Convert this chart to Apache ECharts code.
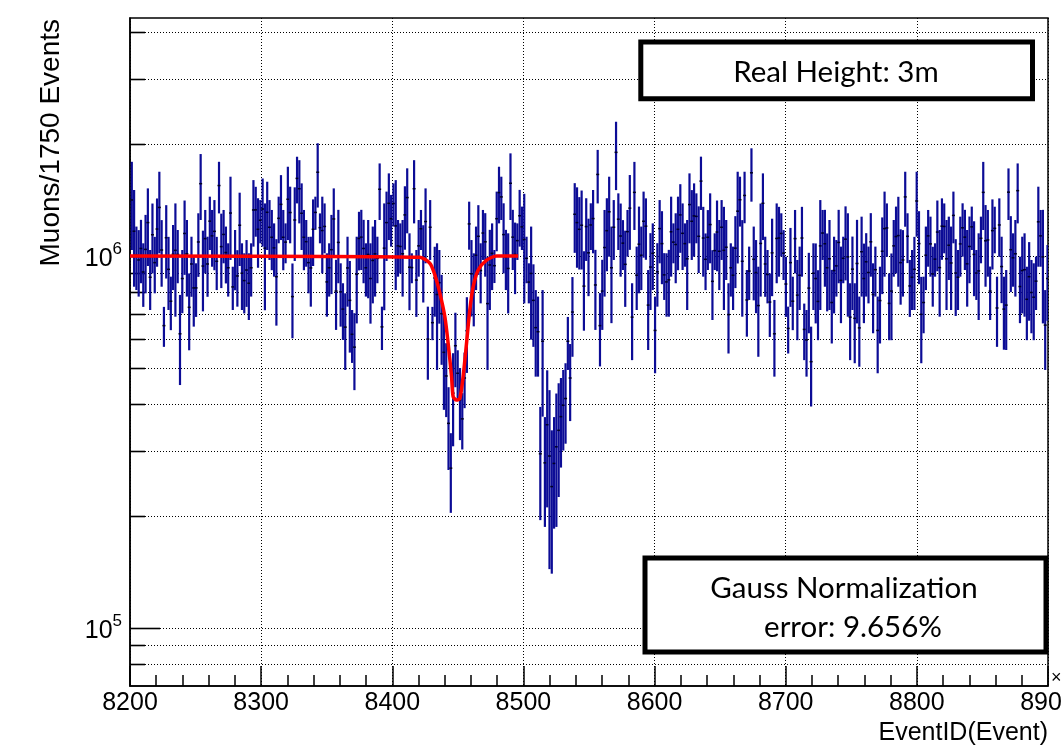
<!DOCTYPE html>
<html>
<head>
<meta charset="utf-8">
<script src="https://cdn.jsdelivr.net/npm/echarts@6/dist/echarts.min.js"></script>
<style>
  html, body { margin: 0; padding: 0; background: #ffffff; }
  #chart { width: 1061px; height: 747px; }
</style>
</head>
<body>
<div id="chart"></div>
<script>
// Histogram binning along EventID (x10^3): 1750 events per bin
const binStart = 8200.5;
const binWidth = 1.75;

// Muon counts per bin, in thousands
const counts = [
  1415,1166,1005,976,1048,906,1042,1230,
  877,1141,960,1182,1351,1038,650,1120,
  921,756,1011,1036,1010,618,870,1150,
  1014,728,952,821,821,1091,1565,940,
  1114,952,1241,1133,1165,968,1547,1060,
  1143,1022,930,1305,826,992,884,1210,
  899,859,917,845,930,1330,1331,1180,
  1248,1338,1050,1311,1195,1123,1052,880,
  1263,1377,1123,1090,1421,1309,778,1250,
  1617,1517,1303,1123,1093,960,929,1180,
  1310,1680,1192,1171,1201,852,930,1040,
  1258,805,1088,801,720,644,929,760,
  616,569,893,1115,1124,1048,930,1010,
  870,973,1014,986,1512,645,1050,1230,
  1386,1260,1384,1205,1065,1061,1014,1290,
  1436,933,931,1517,862,1065,1184,980,
  1238,598,1195,662,873,788,848,700,
  551,476,355,269,428,574,484,410,
  365,470,630,1220,896,832,1005,1130,
  914,1153,1092,745,946,1017,942,1260,
  1481,1442,1142,993,926,1569,1124,1010,
  1100,1283,1198,1108,986,851,898,760,
  642,626,294,590,278,352,290,240,
  277,307,340,370,397,414,590,470,
  707,1295,1230,1180,1210,830,1200,1020,
  1212,1261,836,1657,650,805,1054,1170,
  1315,930,1195,1900,1256,1132,1083,950,
  1163,1345,685,1483,888,1076,1005,1240,
  1203,738,934,1017,631,907,1185,1080,
  890,852,863,1162,1090,1074,1180,1290,
  1151,1080,983,1375,1240,1282,1278,1130,
  1590,1118,980,1123,1215,855,1034,1160,
  1030,1195,1036,1056,696,930,888,1050,
  1320,1417,968,1455,762,911,1674,980,
  903,736,1081,1386,952,892,752,1020,
  618,1115,1118,1150,1018,841,639,960,
  756,1114,785,888,1118,635,595,820,
  520,899,870,755,1065,1153,1079,930,
  983,750,914,941,1088,860,986,1110,
  995,685,922,680,955,641,1027,870,
  965,903,1092,788,919,631,759,1030,
  1185,1190,746,805,1065,1128,1135,960,
  976,1442,1130,831,877,921,1406,1080,
  697,750,1005,1133,1078,895,981,1160,
  931,1203,1201,983,1069,958,1286,900,
  877,1078,1191,1124,953,1061,1198,1010,
  900,912,1116,1483,1099,1105,805,1170,
  1187,725,1212,937,720,738,1485,1040,
  989,1014,1499,828,914,919,765,880,
  798,775,856,1236,1133,995,652,870
];

// Bin errors, in thousands
const errors = [
  377,339,195,198,203,176,248,290,
  161,243,166,246,334,211,80,250,
  205,124,201,349,165,168,168,260,
  236,170,175,175,135,212,315,230,
  216,175,203,197,249,158,245,240,
  187,178,152,329,110,183,153,270,
  183,158,187,172,152,270,204,250,
  166,278,335,273,219,207,172,230,
  181,273,207,134,317,227,177,280,
  232,293,265,207,157,166,198,240,
  134,330,110,273,184,165,152,250,
  262,172,243,155,125,150,198,210,
  100,133,234,200,207,203,152,240,
  212,227,236,141,262,86,335,260,
  282,200,184,395,185,163,236,250,
  285,218,86,293,176,185,146,230,
  282,133,219,68,186,294,190,190,
  165,107,89,65,120,130,74,90,
  63,80,145,180,208,185,195,240,
  168,177,212,251,230,207,96,230,
  257,192,244,183,225,319,207,220,
  124,223,160,362,141,105,302,190,
  168,152,99,220,91,141,146,100,
  92,120,115,100,97,101,96,110,
  171,275,300,260,290,200,230,240,
  174,244,203,272,145,172,276,260,
  319,270,219,396,218,252,166,220,
  167,306,160,308,172,282,195,250,
  226,179,218,207,147,176,229,240,
  128,165,176,282,134,229,264,270,
  234,144,267,293,264,286,196,230,
  260,238,170,206,259,182,117,250,
  220,219,320,194,149,152,172,230,
  365,217,281,230,155,149,274,220,
  201,200,303,282,175,146,146,240,
  144,270,238,153,156,155,92,230,
  124,216,191,172,238,110,121,200,
  126,183,211,161,349,177,252,220,
  267,168,213,163,243,200,141,250,
  308,160,206,165,296,137,249,210,
  187,157,212,168,141,147,177,240,
  305,195,152,211,185,230,308,220,
  198,243,173,145,161,205,279,240,
  182,130,195,197,198,164,101,250,
  244,226,184,267,207,242,204,210,
  161,198,195,207,222,216,160,230,
  138,239,160,308,272,225,132,250,
  170,155,217,190,160,179,235,240,
  162,236,275,168,213,232,171,210,
  178,181,140,300,197,336,158,200
];

// Gaussian-dip fit curve samples (EventID, thousands)
const fitX = [8200, 8421.0, 8428.7, 8432.5, 8436.3, 8440.1, 8442.6, 8445.2, 8446.4, 8449.0,
              8451.5, 8454.0, 8456.6, 8459.1, 8461.7, 8465.5, 8471.9, 8479.5, 8496.0];
const fitY = [1000, 992, 956, 889, 794, 687, 582, 474, 419, 410,
              414, 474, 582, 716, 827, 917, 975, 1000, 1000];

// Axis ranges and log-axis grid levels
const xMin = 8200, xMax = 8900, xStep = 100;
const yMin = 69850, yMax = 4364000;
const yGridValues = [80000, 90000, 100000, 200000, 300000, 400000, 500000, 600000,
                     700000, 800000, 900000, 1000000, 2000000, 3000000, 4000000];

const FONT = 'Liberation Sans, Arial, Helvetica, sans-serif';
const BOX_FONT = 'Lato, Open Sans, sans-serif';

const histData = counts.map((c, i) => [binStart + binWidth * (i + 0.5), c * 1000, errors[i] * 1000]);
const fitData = fitX.map((x, i) => [x, fitY[i] * 1000]);
const gridData = yGridValues.map(v => [xMin, v]);

const chart = echarts.init(document.getElementById('chart'), null, { renderer: 'canvas' });

chart.setOption({
  animation: false,
  backgroundColor: '#ffffff',
  grid: {
    left: 130, right: 13, top: 18, bottom: 61,
    containLabel: false, outerBoundsMode: 'none',
    show: true, borderColor: '#000', borderWidth: 1.5, backgroundColor: 'transparent'
  },
  xAxis: {
    type: 'value', min: xMin, max: xMax, interval: xStep,
    axisLine: { show: true, onZero: false, lineStyle: { color: '#000', width: 1.5 } },
    axisTick: { show: true, inside: true, length: 20, lineStyle: { color: '#000', width: 1.5 } },
    minorTick: { show: true, splitNumber: 5, length: 11, lineStyle: { color: '#000', width: 1.5 } },
    splitLine: { show: true, lineStyle: { color: '#000', width: 1, type: [1, 2] } },
    axisLabel: {
      color: '#000', fontFamily: FONT, fontSize: 25, margin: 5,
      hideOverlap: false,
      formatter: function (v) { return String(v); }
    }
  },
  yAxis: {
    type: 'log', logBase: 10, min: yMin, max: yMax,
    axisLine: { show: true, lineStyle: { color: '#000', width: 1.5 } },
    axisTick: { show: false },
    splitLine: { show: false },
    axisLabel: {
      showMinLabel: false, showMaxLabel: false, margin: 8,
      formatter: function (v) {
        const e = Math.log10(v);
        const r = Math.round(e);
        if (Math.abs(e - r) > 1e-6) return '';
        return '{b|10}{s|' + r + '}';
      },
      rich: {
        b: { fontSize: 25, fontFamily: FONT, color: '#000', padding: [6, 0, 0, 0] },
        s: { fontSize: 17, fontFamily: FONT, color: '#000', verticalAlign: 'top' }
      }
    }
  },
  series: [
    {
      // dotted horizontal grid and left-axis ticks at every log step
      type: 'custom',
      data: gridData,
      encode: { x: 0, y: 1 },
      silent: true,
      z: 1,
      renderItem: function (params, api) {
        const v = api.value(1);
        const p = api.coord([xMin, v]);
        const cs = params.coordSys;
        const y = Math.round(p[1]) + 0.5;
        const lg = Math.log10(v);
        const major = Math.abs(lg - Math.round(lg)) < 1e-9;
        return {
          type: 'group',
          children: [
            { type: 'line', shape: { x1: cs.x, y1: y, x2: cs.x + cs.width, y2: y },
              style: { stroke: '#000', lineWidth: 1, lineDash: [1, 2] } },
            { type: 'line', shape: { x1: cs.x, y1: y, x2: cs.x + (major ? 30 : 15), y2: y },
              style: { stroke: '#000', lineWidth: 1.6 } }
          ]
        };
      }
    },
    {
      // histogram error bars with centre markers
      type: 'custom',
      data: histData,
      encode: { x: 0, y: 1 },
      silent: true,
      clip: true,
      z: 3,
      renderItem: function (params, api) {
        const x = api.value(0), v = api.value(1), e = api.value(2);
        const top = api.coord([x, v + e]);
        const bot = api.coord([x, v - e]);
        const c = api.coord([x, v]);
        return {
          type: 'group',
          children: [
            { type: 'line', shape: { x1: top[0], y1: top[1], x2: bot[0], y2: bot[1] },
              style: { stroke: '#0c0c96', lineWidth: 2.2 } },
            { type: 'rect', shape: { x: c[0] - 1.5, y: c[1] - 0.75, width: 3, height: 1.5 },
              style: { fill: '#000022' } }
          ]
        };
      }
    },
    {
      type: 'line',
      data: fitData,
      showSymbol: false,
      symbol: 'none',
      smooth: 0.25,
      silent: true,
      z: 5,
      lineStyle: { color: '#ff0000', width: 3.5 }
    }
  ],
  graphic: [
    { type: 'text', x: 51, y: 19, rotation: Math.PI / 2, z: 10,
      style: { text: 'Muons/1750 Events', fontFamily: FONT, fontSize: 28, fill: '#000',
               align: 'right', verticalAlign: 'middle' } },
    { type: 'text', x: 1048, y: 733, z: 10,
      style: { text: 'EventID(Event)', fontFamily: FONT, fontSize: 25, fill: '#000',
               align: 'right', verticalAlign: 'middle' } },
    { type: 'text', x: 1051, y: 678, z: 10,
      style: { text: '×10³', fontFamily: FONT, fontSize: 18, fill: '#000',
               align: 'left', verticalAlign: 'middle' } },
    { type: 'rect', z: 20,
      shape: { x: 640.8, y: 42, width: 391.7, height: 56.8 },
      style: { fill: '#fff', stroke: '#000', lineWidth: 5 } },
    { type: 'text', x: 836, y: 72, z: 21,
      style: { text: 'Real Height: 3m', fontFamily: BOX_FONT, fontSize: 29.5, fill: '#000',
               align: 'center', verticalAlign: 'middle' } },
    { type: 'rect', z: 20,
      shape: { x: 645, y: 558, width: 401, height: 94 },
      style: { fill: '#fff', stroke: '#000', lineWidth: 5 } },
    { type: 'text', x: 844, y: 588, z: 21,
      style: { text: 'Gauss Normalization', fontFamily: BOX_FONT, fontSize: 29.5, fill: '#000',
               align: 'center', verticalAlign: 'middle' } },
    { type: 'text', x: 853, y: 627, z: 21,
      style: { text: 'error: 9.656%', fontFamily: BOX_FONT, fontSize: 29.5, fill: '#000',
               align: 'center', verticalAlign: 'middle' } }
  ]
});
</script>
</body>
</html>
